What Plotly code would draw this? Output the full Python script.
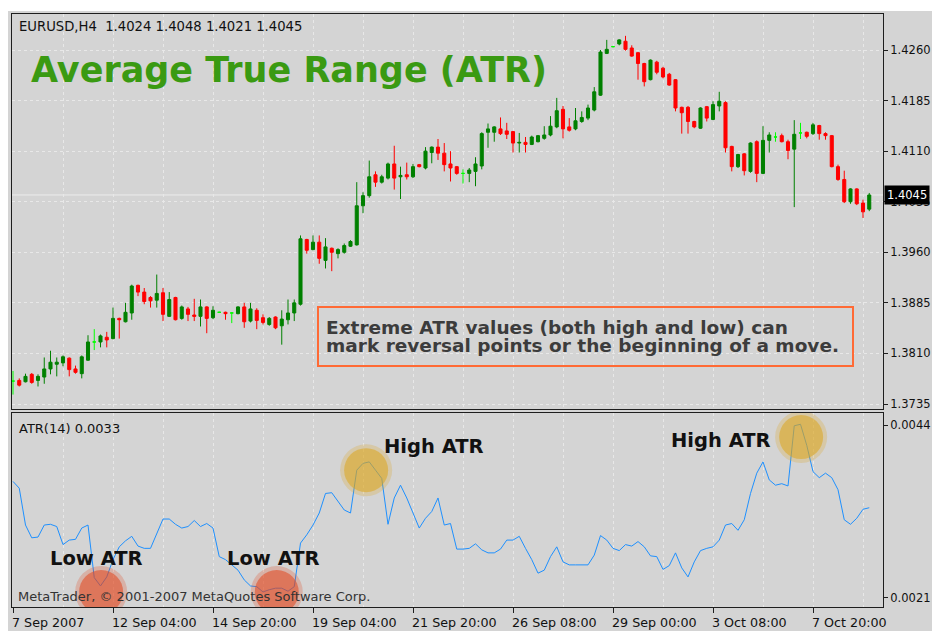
import plotly.graph_objects as go

# ---------------- data (EURUSD H4) ----------------
opens = [1.3769, 1.3770, 1.3768, 1.3779, 1.3770, 1.3775, 1.3787, 1.3794, 1.3796, 1.3803,
         1.3787, 1.3780, 1.3800, 1.3827, 1.3827, 1.3834, 1.3832, 1.3862, 1.3857, 1.3870,
         1.3911, 1.3901, 1.3893, 1.3889, 1.3900, 1.3865, 1.3893, 1.3862, 1.3876, 1.3867,
         1.3865, 1.3879, 1.3863, 1.3871, 1.3871, 1.3870, 1.3869, 1.3879, 1.3858, 1.3874,
         1.3863, 1.3853, 1.3864, 1.3851, 1.3860, 1.3870, 1.3883, 1.3979, 1.3964, 1.3975,
         1.3948, 1.3966, 1.3958, 1.3960, 1.3969, 1.3971, 1.4029, 1.4044, 1.4075, 1.4064,
         1.4070, 1.4091, 1.4072, 1.4075, 1.4072, 1.4090, 1.4085, 1.4108, 1.4116, 1.4107,
         1.4091, 1.4087, 1.4077, 1.4077, 1.4080, 1.4088, 1.4138, 1.4138, 1.4143, 1.4140,
         1.4139, 1.4122, 1.4123, 1.4120, 1.4124, 1.4129, 1.4134, 1.4146, 1.4172, 1.4146,
         1.4143, 1.4154, 1.4159, 1.4171, 1.4193, 1.4255, 1.4265, 1.4269, 1.4273, 1.4263,
         1.4256, 1.4240, 1.4216, 1.4242, 1.4233, 1.4224, 1.4216, 1.4175, 1.4175, 1.4154,
         1.4144, 1.4176, 1.4157, 1.4177, 1.4182, 1.4117, 1.4087, 1.4106, 1.4080, 1.4124,
         1.4077, 1.4126, 1.4131, 1.4133, 1.4124, 1.4113, 1.4137, 1.4138, 1.4136, 1.4148,
         1.4136, 1.4133, 1.4087, 1.4068, 1.4035, 1.4054, 1.4033, 1.4024]
highs = [1.3784, 1.3773, 1.3780, 1.3781, 1.3779, 1.3804, 1.3814, 1.3804, 1.3807, 1.3804,
         1.3792, 1.3807, 1.3837, 1.3846, 1.3838, 1.3842, 1.3878, 1.3863, 1.3885, 1.3912,
         1.3912, 1.3907, 1.3895, 1.3927, 1.3907, 1.3901, 1.3894, 1.3881, 1.3879, 1.3891,
         1.3890, 1.3880, 1.3880, 1.3872, 1.3872, 1.3871, 1.3880, 1.3885, 1.3885, 1.3877,
         1.3868, 1.3864, 1.3865, 1.3874, 1.3890, 1.3890, 1.3985, 1.3980, 1.3985, 1.3985,
         1.3981, 1.3967, 1.3966, 1.3973, 1.3978, 1.4064, 1.4049, 1.4096, 1.4080, 1.4075,
         1.4093, 1.4118, 1.4087, 1.4093, 1.4091, 1.4091, 1.4116, 1.4117, 1.4128, 1.4122,
         1.4110, 1.4088, 1.4083, 1.4085, 1.4101, 1.4138, 1.4151, 1.4147, 1.4160, 1.4152,
         1.4140, 1.4137, 1.4131, 1.4133, 1.4134, 1.4147, 1.4162, 1.4189, 1.4177, 1.4159,
         1.4174, 1.4169, 1.4179, 1.4205, 1.4260, 1.4275, 1.4266, 1.4276, 1.4281, 1.4267,
         1.4257, 1.4241, 1.4246, 1.4244, 1.4235, 1.4226, 1.4217, 1.4176, 1.4177, 1.4155,
         1.4175, 1.4177, 1.4184, 1.4198, 1.4184, 1.4118, 1.4106, 1.4107, 1.4123, 1.4126,
         1.4147, 1.4138, 1.4138, 1.4136, 1.4127, 1.4156, 1.4152, 1.4139, 1.4152, 1.4149,
         1.4138, 1.4134, 1.4090, 1.4081, 1.4055, 1.4055, 1.4038, 1.4048]
lows = [1.3749, 1.3761, 1.3767, 1.3765, 1.3761, 1.3765, 1.3779, 1.3776, 1.3791, 1.3776,
        1.3780, 1.3773, 1.3799, 1.3815, 1.3819, 1.3819, 1.3831, 1.3832, 1.3856, 1.3860,
        1.3895, 1.3883, 1.3878, 1.3878, 1.3858, 1.3864, 1.3859, 1.3860, 1.3858, 1.3858,
        1.3850, 1.3840, 1.3861, 1.3870, 1.3860, 1.3855, 1.3868, 1.3848, 1.3856, 1.3846,
        1.3853, 1.3851, 1.3846, 1.3823, 1.3853, 1.3858, 1.3881, 1.3958, 1.3963, 1.3943,
        1.3936, 1.3932, 1.3951, 1.3958, 1.3968, 1.3970, 1.4018, 1.4041, 1.4057, 1.4062,
        1.4068, 1.4053, 1.4039, 1.4068, 1.4070, 1.4086, 1.4083, 1.4092, 1.4097, 1.4080,
        1.4065, 1.4075, 1.4062, 1.4064, 1.4058, 1.4083, 1.4115, 1.4124, 1.4134, 1.4128,
        1.4108, 1.4108, 1.4108, 1.4119, 1.4123, 1.4127, 1.4132, 1.4144, 1.4129, 1.4139,
        1.4141, 1.4152, 1.4156, 1.4169, 1.4192, 1.4254, 1.4264, 1.4267, 1.4259, 1.4250,
        1.4216, 1.4206, 1.4215, 1.4224, 1.4218, 1.4207, 1.4169, 1.4136, 1.4136, 1.4144,
        1.4143, 1.4154, 1.4156, 1.4169, 1.4108, 1.4080, 1.4085, 1.4074, 1.4078, 1.4064,
        1.4076, 1.4108, 1.4124, 1.4123, 1.4098, 1.4027, 1.4128, 1.4129, 1.4134, 1.4127,
        1.4127, 1.4086, 1.4066, 1.4033, 1.4032, 1.4030, 1.4011, 1.4021]
closes = [1.3769, 1.3763, 1.3776, 1.3767, 1.3776, 1.3787, 1.3797, 1.3797, 1.3805, 1.3786,
          1.3782, 1.3805, 1.3827, 1.3827, 1.3836, 1.3830, 1.3862, 1.3860, 1.3871, 1.3910,
          1.3901, 1.3887, 1.3888, 1.3899, 1.3868, 1.3890, 1.3860, 1.3879, 1.3868, 1.3865,
          1.3879, 1.3862, 1.3874, 1.3871, 1.3869, 1.3870, 1.3879, 1.3857, 1.3876, 1.3859,
          1.3856, 1.3862, 1.3848, 1.3861, 1.3870, 1.3885, 1.3980, 1.3963, 1.3975, 1.3951,
          1.3968, 1.3960, 1.3964, 1.3970, 1.3976, 1.4029, 1.4044, 1.4072, 1.4064, 1.4072,
          1.4091, 1.4070, 1.4074, 1.4072, 1.4087, 1.4087, 1.4110, 1.4116, 1.4107, 1.4090,
          1.4085, 1.4077, 1.4077, 1.4082, 1.4091, 1.4136, 1.4143, 1.4146, 1.4136, 1.4135,
          1.4122, 1.4123, 1.4120, 1.4131, 1.4133, 1.4134, 1.4147, 1.4170, 1.4143, 1.4141,
          1.4155, 1.4160, 1.4174, 1.4198, 1.4257, 1.4261, 1.4265, 1.4275, 1.4261, 1.4251,
          1.4240, 1.4213, 1.4245, 1.4227, 1.4220, 1.4208, 1.4174, 1.4167, 1.4154, 1.4146,
          1.4174, 1.4159, 1.4179, 1.4184, 1.4115, 1.4087, 1.4105, 1.4081, 1.4122, 1.4077,
          1.4126, 1.4134, 1.4131, 1.4124, 1.4111, 1.4135, 1.4137, 1.4132, 1.4149, 1.4136,
          1.4133, 1.4087, 1.4068, 1.4035, 1.4054, 1.4032, 1.4020, 1.4045]
atr14 = [0.00365, 0.00356, 0.00307, 0.00290, 0.00291, 0.00307, 0.00308, 0.00305, 0.00281, 0.00287,
         0.00288, 0.00303, 0.00307, 0.00237, 0.00226, 0.00238, 0.00261, 0.00278, 0.00286, 0.00292,
         0.00279, 0.00276, 0.00276, 0.00296, 0.00315, 0.00315, 0.00308, 0.00303, 0.00305, 0.00313,
         0.00305, 0.00309, 0.00303, 0.00265, 0.00261, 0.00254, 0.00247, 0.00234, 0.00226, 0.00225,
         0.00218, 0.00221, 0.00223, 0.00223, 0.00219, 0.00225, 0.00283, 0.00294, 0.00307, 0.00323,
         0.00349, 0.00350, 0.00338, 0.00327, 0.00323, 0.00380, 0.00389, 0.00391, 0.00380, 0.00369,
         0.00308, 0.00343, 0.00360, 0.00343, 0.00323, 0.00303, 0.00316, 0.00325, 0.00343, 0.00307,
         0.00309, 0.00275, 0.00275, 0.00276, 0.00282, 0.00274, 0.00270, 0.00270, 0.00275, 0.00287,
         0.00287, 0.00292, 0.00276, 0.00261, 0.00243, 0.00247, 0.00265, 0.00278, 0.00258, 0.00254,
         0.00254, 0.00254, 0.00254, 0.00267, 0.00293, 0.00287, 0.00276, 0.00273, 0.00281, 0.00279,
         0.00285, 0.00278, 0.00266, 0.00265, 0.00248, 0.00253, 0.00270, 0.00250, 0.00238, 0.00258,
         0.00273, 0.00276, 0.00278, 0.00287, 0.00307, 0.00309, 0.00300, 0.00314, 0.00349, 0.00376,
         0.00391, 0.00367, 0.00360, 0.00362, 0.00359, 0.00439, 0.00441, 0.00413, 0.00378, 0.00370,
         0.00376, 0.00370, 0.00354, 0.00314, 0.00308, 0.00316, 0.00328, 0.00330]

time_tick_bars = [0, 16, 32, 48, 64, 80, 96, 112, 128]
time_tick_labels = ["7 Sep 2007", "12 Sep 04:00", "14 Sep 20:00", "19 Sep 04:00",
                    "21 Sep 20:00", "26 Sep 08:00", "29 Sep 00:00", "3 Oct 08:00",
                    "7 Oct 20:00"]
price_ticks = [1.3735, 1.3810, 1.3885, 1.3960, 1.4035, 1.4110, 1.4185, 1.4260]
atr_ticks = [0.0021, 0.0044]

symbol = "EURUSD,H4"
atr_period = 14
low_atr_bars = [14.1, 42.2]
low_atr_levels = [0.00218, 0.00218]
high_atr_bars = [56.5, 126.1]
high_atr_levels = [0.00380, 0.00424]

# ---------------- geometry helpers (window pixels) ----------------
W, H = 932, 631
ML, MR, MT, MB = 12, 49, 14, 24
PW, PH = W - ML - MR, H - MT - MB


def fx(px):
    return (px - ML) / PW


def fy(py):
    return (H - MB - py) / PH


BG = "#d4d4d4"
GRID = "#e8e8e8"
FRAME = "#1e1e1e"
FONT = "DejaVu Sans"

bars = list(range(len(closes)))
groups = [
    ([i for i in bars if closes[i] > opens[i]], "#008000"),
    ([i for i in bars if closes[i] < opens[i]], "#ff0000"),
    ([i for i in bars if closes[i] == opens[i]], "#00ff00"),
]

fig = go.Figure()
for idx, col in groups:
    fig.add_trace(go.Candlestick(
        x=idx,
        open=[opens[i] for i in idx], high=[highs[i] for i in idx],
        low=[lows[i] for i in idx], close=[closes[i] for i in idx],
        increasing=dict(line=dict(color=col, width=1), fillcolor=col),
        decreasing=dict(line=dict(color=col, width=1), fillcolor=col),
        whiskerwidth=0, xaxis="x", yaxis="y", showlegend=False, hoverinfo="skip"))

fig.add_trace(go.Scatter(x=bars, y=atr14, mode="lines",
                         line=dict(color="#1e90ff", width=1),
                         xaxis="x2", yaxis="y2", showlegend=False, hoverinfo="skip"))

xrange = [-0.16, 139.2]
grid_bars = list(range(0, len(closes), 8))

axis_common = dict(showline=True, mirror=True, linecolor=FRAME, linewidth=1,
                   zeroline=False, automargin=False, fixedrange=True)

shapes = [
    # white strips along the top and left of the screenshot
    dict(type="rect", xref="paper", yref="paper", x0=fx(0), x1=fx(W), y0=fy(11), y1=fy(0),
         fillcolor="white", line=dict(width=0), layer="above"),
    dict(type="rect", xref="paper", yref="paper", x0=fx(0), x1=fx(8), y0=fy(H), y1=fy(0),
         fillcolor="white", line=dict(width=0), layer="above"),
    # bid line
    dict(type="line", xref="paper", yref="y", x0=0, x1=1, y0=closes[-1], y1=closes[-1],
         line=dict(color="#ececec", width=1), layer="below"),
    # callout box
    dict(type="rect", xref="paper", yref="paper", x0=fx(318), x1=fx(853), y0=fy(366), y1=fy(307),
         line=dict(color="#ff6a35", width=2), fillcolor="rgba(0,0,0,0)", layer="above"),
]

for b, v in zip(low_atr_bars, low_atr_levels):
    for r, a in [(26, 0.25), (22, 0.55)]:
        shapes.append(dict(type="circle", xref="x2", yref="y2", xsizemode="pixel", ysizemode="pixel",
                           xanchor=b, yanchor=v, x0=-r, x1=r, y0=-r, y1=r,
                           fillcolor=f"rgba(225,70,30,{a})", line=dict(width=0), layer="above"))
for b, v in zip(high_atr_bars, high_atr_levels):
    for r, a in [(26, 0.25), (22, 0.55)]:
        shapes.append(dict(type="circle", xref="x2", yref="y2", xsizemode="pixel", ysizemode="pixel",
                           xanchor=b, yanchor=v, x0=-r, x1=r, y0=-r, y1=r,
                           fillcolor=f"rgba(220,165,30,{a})", line=dict(width=0), layer="above"))

ann = []
ann.append(dict(text=f"{symbol}\u00a0\u00a0" + " ".join(f"{v:.4f}" for v in
                (opens[-1], highs[-1], lows[-1], closes[-1])),
                xref="paper", yref="paper", x=fx(17), y=fy(27), xanchor="left", yanchor="middle",
                showarrow=False, font=dict(family=FONT, size=13.2, color="#111")))
ann.append(dict(text="<b>Average True Range (ATR)</b>", xref="paper", yref="paper",
                x=fx(29), y=fy(70), xanchor="left", yanchor="middle", showarrow=False,
                font=dict(family=FONT, size=35, color="#3a9a12")))
ann.append(dict(text="<b>Extreme ATR values (both high and low) can</b>", xref="paper", yref="paper",
                x=fx(324), y=fy(327), xanchor="left", yanchor="middle", showarrow=False,
                font=dict(family=FONT, size=18.5, color="#3c3c3c")))
ann.append(dict(text="<b>mark reversal points or the beginning of a move.</b>", xref="paper", yref="paper",
                x=fx(324), y=fy(346), xanchor="left", yanchor="middle", showarrow=False,
                font=dict(family=FONT, size=18.5, color="#3c3c3c")))
ann.append(dict(text=f"ATR({atr_period}) {atr14[-1]:.4f}", xref="paper", yref="paper",
                x=fx(17), y=fy(429), xanchor="left", yanchor="middle", showarrow=False,
                font=dict(family=FONT, size=13, color="#111")))
ann.append(dict(text="MetaTrader, \u00a9 2001-2007 MetaQuotes Software Corp.", xref="paper", yref="paper",
                x=fx(16), y=fy(596), xanchor="left", yanchor="middle", showarrow=False,
                font=dict(family=FONT, size=13, color="#333")))
for b, v, txt in [(13.4, 0.00262, "Low ATR"), (41.6, 0.00262, "Low ATR"),
                  (67.4, 0.00412, "High ATR"), (113.3, 0.00420, "High ATR")]:
    ann.append(dict(text=f"<b>{txt}</b>", xref="x2", yref="y2", x=b, y=v, xanchor="center",
                    yanchor="middle", showarrow=False, font=dict(family=FONT, size=19.5, color="#111")))
# current price marker
ann.append(dict(text=f"{closes[-1]:.4f}", xref="paper", yref="y", x=1, y=closes[-1], xanchor="left",
                yanchor="middle", xshift=1, showarrow=False, bgcolor="#000", borderpad=2,
                font=dict(family=FONT, size=11.5, color="white")))
# time labels (left aligned on their ticks, as in MetaTrader)
for b, txt in zip(time_tick_bars, time_tick_labels):
    ann.append(dict(text=txt, xref="x2", yref="paper", x=b, y=fy(622), xanchor="left",
                    yanchor="middle", xshift=-3, showarrow=False,
                    font=dict(family=FONT, size=12.7, color="#111")))

fig.update_layout(
    template="none",
    width=W, height=H,
    margin=dict(l=ML, r=MR, t=MT, b=MB, pad=0),
    paper_bgcolor=BG, plot_bgcolor=BG,
    boxgap=0.3, boxgroupgap=0.3,
    showlegend=False,
    xaxis=dict(domain=[0, 1], anchor="y", range=xrange, tickvals=grid_bars,
               showticklabels=False, ticks="", showgrid=True, gridcolor=GRID,
               griddash="3px,3px", gridwidth=1, rangeslider=dict(visible=False), **axis_common),
    yaxis=dict(domain=[fy(409), 1], anchor="x", range=[1.37276, 1.43134], side="right",
               tickvals=price_ticks, ticktext=[f"{v:.4f}" for v in price_ticks],
               ticks="outside", ticklen=4, tickcolor=FRAME, showgrid=True, gridcolor=GRID,
               griddash="3px,3px", tickfont=dict(family=FONT, size=11.5, color="#111"), **axis_common),
    xaxis2=dict(domain=[0, 1], anchor="y2", range=xrange, tickvals=time_tick_bars,
                showticklabels=False, ticks="outside", ticklen=5, tickcolor=FRAME,
                showgrid=True, gridcolor=GRID, griddash="3px,3px",
                minor=dict(tickvals=[b for b in grid_bars if b not in time_tick_bars],
                           showgrid=True, gridcolor=GRID, griddash="3px,3px", ticks=""),
                **axis_common),
    yaxis2=dict(domain=[0, fy(413)], anchor="x2", range=[0.00198, 0.00456], side="right",
                tickvals=atr_ticks, ticktext=[f"{v:.4f}" for v in atr_ticks],
                ticks="outside", ticklen=4, tickcolor=FRAME, showgrid=False,
                tickfont=dict(family=FONT, size=11.5, color="#111"), **axis_common),
    shapes=shapes,
    annotations=ann,
)

# place the figure at the window's top-left corner (no page margin / scrollbars)
fig.write_html("out.html", config={"displayModeBar": False}, post_script=(
    "document.body.style.margin='0';"
    "document.body.style.overflow='hidden';"
    "document.documentElement.style.overflow='hidden';"))
